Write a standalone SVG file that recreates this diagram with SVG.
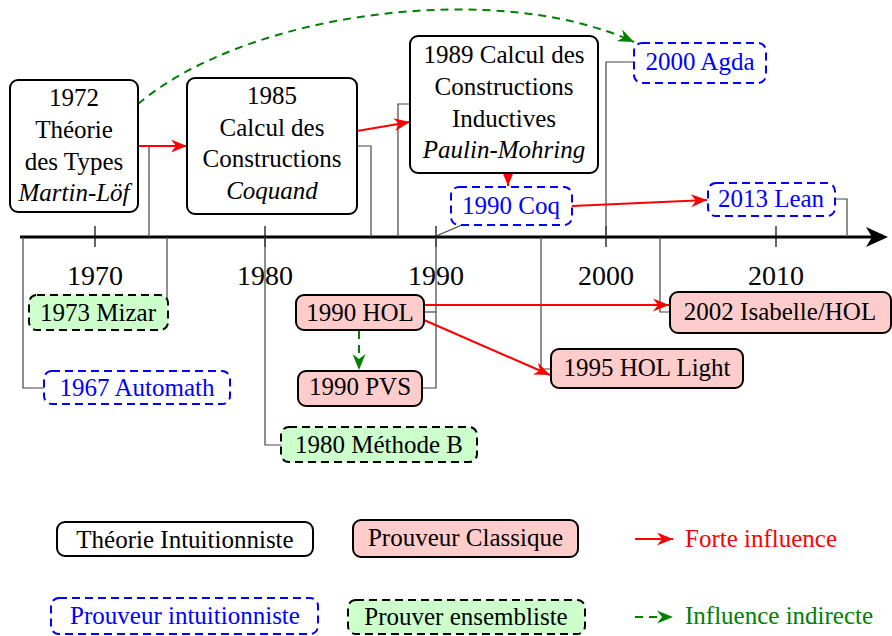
<svg xmlns="http://www.w3.org/2000/svg" width="892" height="636" viewBox="0 0 892 636">
<defs>
<style>
text{font-family:"Liberation Serif","Times New Roman",serif;font-size:25px;text-anchor:middle;fill:#000}
.it{font-style:italic}
.b{fill:#0000ff}
.lbl{font-size:28px}
.th{fill:#fff;stroke:#000;stroke-width:2}
.pc{fill:#ffcccc;stroke:#000;stroke-width:2}
.pi{fill:#fff;stroke:#0000ff;stroke-width:2;stroke-dasharray:8 5}
.pe{fill:#ccffcc;stroke:#000;stroke-width:2;stroke-dasharray:8 5}
.lead{fill:none;stroke:#444;stroke-width:1.2}
.strong{fill:none;stroke:#ff0000;stroke-width:2;marker-end:url(#ar)}
.ind{fill:none;stroke:#008000;stroke-width:2;stroke-dasharray:8 6;marker-end:url(#ag)}
.leg{text-anchor:start}
</style>
<marker id="ar" markerUnits="userSpaceOnUse" markerWidth="17" markerHeight="14" refX="16" refY="7" orient="auto"><path d="M0,0.5 L16,7 L0,13.5 L5,7 Z" fill="#ff0000"/></marker>
<marker id="ag" markerUnits="userSpaceOnUse" markerWidth="17" markerHeight="14" refX="16" refY="7" orient="auto"><path d="M0,0.5 L16,7 L0,13.5 L5,7 Z" fill="#008000"/></marker>
</defs>
<rect width="892" height="636" fill="#fff"/>

<g id="axis">
<line x1="20" y1="237" x2="872" y2="237" stroke="#000" stroke-width="3"/>
<path d="M888,237 L866,227 L872,237 L866,247 Z" fill="#000"/>
<g stroke="#000" stroke-width="1.2">
<line x1="95" y1="226" x2="95" y2="247"/>
<line x1="265" y1="226" x2="265" y2="247"/>
<line x1="436" y1="226" x2="436" y2="247"/>
<line x1="606" y1="226" x2="606" y2="247"/>
<line x1="776" y1="226" x2="776" y2="247"/>
</g>
<text class="lbl" x="95" y="285">1970</text>
<text class="lbl" x="265" y="285">1980</text>
<text class="lbl" x="436" y="285">1990</text>
<text class="lbl" x="606" y="285">2000</text>
<text class="lbl" x="776" y="285">2010</text>
</g>

<g id="connectors">
<g id="leaders">
<path class="lead" d="M23,237 V388 H44"/>
<path class="lead" d="M138,146 H149 V237"/>
<path class="lead" d="M167,237 V300"/>
<path class="lead" d="M357,146 H371 V237"/>
<path class="lead" d="M398,237 V104 H410"/>
<path class="lead" d="M436,236 L462,225"/>
<path class="lead" d="M436,237 V388 H422"/>
<path class="lead" d="M424,312 H436"/>
<path class="lead" d="M265,237 V445 H281"/>
<path class="lead" d="M541,237 V369 H551"/>
<path class="lead" d="M606,237 V62 H634"/>
<path class="lead" d="M660,237 V312 H670"/>
<path class="lead" d="M835,199 H847 V237"/>
</g>
<path class="strong" d="M138,146 H187"/>
<path class="strong" d="M357,131 L410,122"/>
<path class="strong" d="M508,173 V186"/>
<path class="strong" d="M572,206 L707,200"/>
<path class="strong" d="M424,305 H669"/>
<path class="strong" d="M424,320 L550,375"/>
<path class="ind" d="M359,331 V370"/>
<path class="ind" d="M138,104 C250,10 500,-20 634,42"/>
</g>

<g id="n1972">
<rect class="th" x="10" y="80" width="128" height="132" rx="8"/>
<text x="74" y="106">1972</text>
<text x="74" y="138">Théorie</text>
<text x="74" y="170">des Types</text>
<text class="it" x="74" y="201">Martin-Löf</text>
</g>
<g id="n1985">
<rect class="th" x="187" y="78" width="170" height="136" rx="8"/>
<text x="272" y="104">1985</text>
<text x="272" y="136">Calcul des</text>
<text x="272" y="167">Constructions</text>
<text class="it" x="272" y="199">Coquand</text>
</g>
<g id="n1989">
<rect class="th" x="410" y="36" width="188" height="137" rx="8"/>
<text x="504" y="63">1989 Calcul des</text>
<text x="504" y="95">Constructions</text>
<text x="504" y="127">Inductives</text>
<text class="it" x="504" y="158">Paulin-Mohring</text>
</g>
<g id="coq">
<rect class="pi" x="451" y="187" width="121" height="38" rx="8"/>
<text class="b" x="511" y="214">1990 Coq</text>
</g>
<g id="agda">
<rect class="pi" x="634" y="43" width="132" height="40" rx="8"/>
<text class="b" x="700" y="70">2000 Agda</text>
</g>
<g id="lean">
<rect class="pi" x="708" y="183" width="127" height="33" rx="8"/>
<text class="b" x="771" y="207">2013 Lean</text>
</g>
<g id="mizar">
<rect class="pe" x="29" y="295" width="139" height="35" rx="8"/>
<text x="98" y="321">1973 Mizar</text>
</g>
<g id="automath">
<rect class="pi" x="44" y="371" width="186" height="33" rx="8"/>
<text class="b" x="137" y="396">1967 Automath</text>
</g>
<g id="hol">
<rect class="pc" x="296" y="295" width="128" height="35" rx="8"/>
<text x="360" y="321">1990 HOL</text>
</g>
<g id="pvs">
<rect class="pc" x="298" y="371" width="124" height="35" rx="8"/>
<text x="360" y="395">1990 PVS</text>
</g>
<g id="isabelle">
<rect class="pc" x="670" y="292" width="221" height="41" rx="8"/>
<text x="780" y="320">2002 Isabelle/HOL</text>
</g>
<g id="hollight">
<rect class="pc" x="551" y="349" width="192" height="39" rx="8"/>
<text x="647" y="376">1995 HOL Light</text>
</g>
<g id="methodeb">
<rect class="pe" x="281" y="427" width="196" height="35" rx="8"/>
<text x="379" y="453">1980 Méthode B</text>
</g>

<g id="legend">
<g id="leg-th">
<rect class="th" x="57" y="522" width="256" height="34" rx="8"/>
<text x="185" y="548">Théorie Intuitionniste</text>
</g>
<g id="leg-pc">
<rect class="pc" x="353" y="520" width="225" height="37" rx="8"/>
<text x="465.5" y="546">Prouveur Classique</text>
</g>
<g id="leg-pi">
<rect class="pi" x="51" y="598" width="267" height="36" rx="8"/>
<text class="b" x="185" y="624">Prouveur intuitionniste</text>
</g>
<g id="leg-pe">
<rect class="pe" x="348" y="600" width="237" height="34" rx="8"/>
<text x="466" y="625">Prouver ensembliste</text>
</g>
<path class="strong" d="M635,539 H673"/>
<text class="leg" x="685" y="547" style="fill:#ff0000">Forte influence</text>
<path class="ind" d="M635,617 H673"/>
<text class="leg" x="685" y="624" style="fill:#008000">Influence indirecte</text>
</g>
</svg>
